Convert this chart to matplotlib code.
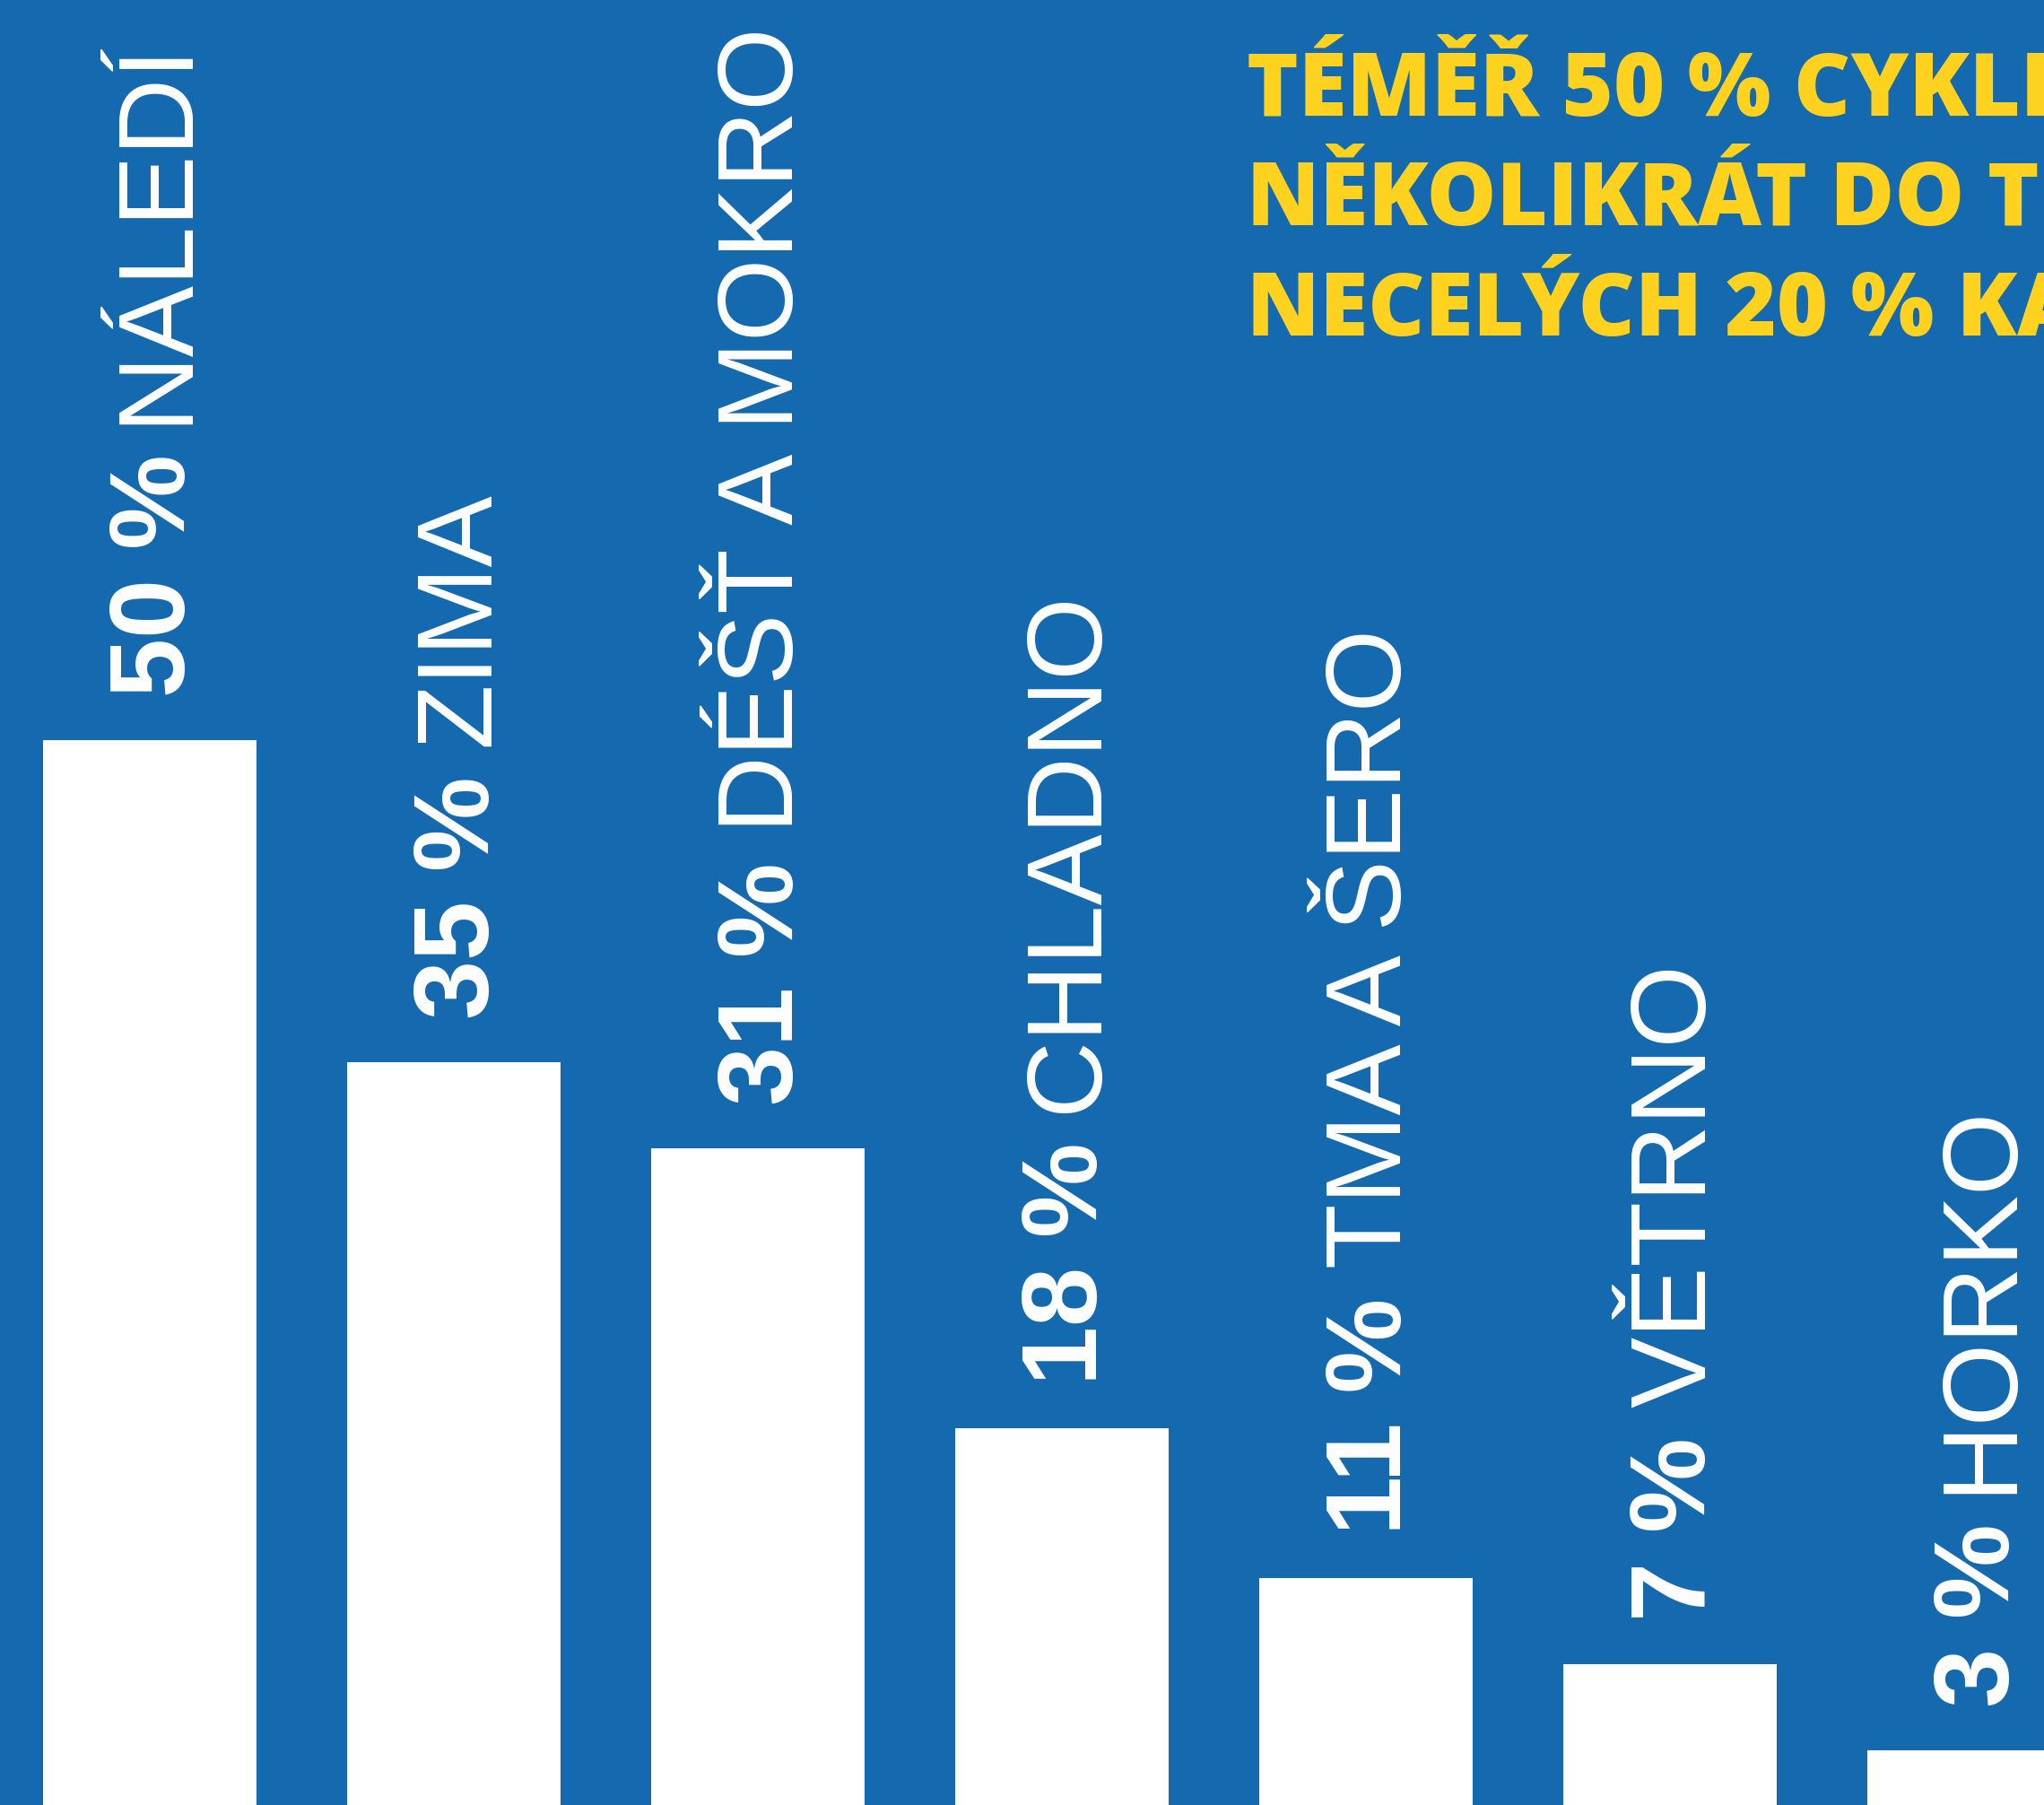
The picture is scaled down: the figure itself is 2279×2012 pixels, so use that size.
import os
import matplotlib
matplotlib.use("Agg")
import matplotlib.pyplot as plt
from matplotlib.font_manager import FontProperties

# ---- data ----
categories = ["NÁLEDÍ", "ZIMA", "DÉŠŤ A MOKRO", "CHLADNO", "TMA A ŠERO", "VĚTRNO", "HORKO"]
values = [50, 35, 31, 18, 11, 7, 3]
title_lines = ["TÉMĚŘ 50 % CYKLI", "NĚKOLIKRÁT DO T", "NECELÝCH 20 % KA"]

BG = "#1469AF"
YELLOW = "#FFD21F"
W, H, DPI = 2279, 2012, 100


def fp(path, family, weight, size):
    if os.path.exists(path):
        return FontProperties(fname=path, size=size)
    return FontProperties(family=family, weight=weight, size=size)


LIB = "/usr/share/fonts/truetype/liberation/"
OS = "/usr/share/fonts/truetype/open-sans/"
fs = 85.5
fp_bold = fp(LIB + "LiberationSans-Bold.ttf", "Liberation Sans", "bold", fs)
fp_reg = fp(LIB + "LiberationSans-Regular.ttf", "Liberation Sans", "normal", fs)
fp_title = fp(OS + "OpenSans-ExtraBold.ttf", "Open Sans", "heavy", 70.5)

fig = plt.figure(figsize=(W / DPI, H / DPI), dpi=DPI, facecolor=BG)
ax = fig.add_axes([0, 0, 1, 1])
ax.set_facecolor(BG)

x = list(range(len(values)))
ax.bar(x, values, width=0.702, color="white", linewidth=0)
ax.set_xlim(-0.4926, 6.230)
ax.set_ylim(0.46, 84.4)
ax.axis("off")

cap_half = 39
gap = 48
fig.canvas.draw()
renderer = fig.canvas.get_renderer()
for i, (v, cat) in enumerate(zip(values, categories)):
    t1 = ax.annotate(f"{v} %", xy=(i, v), xytext=(cap_half, gap), textcoords="offset pixels",
                     rotation=90, rotation_mode="anchor", ha="left", va="baseline",
                     fontproperties=fp_bold, color="white", annotation_clip=False)
    ext = t1.get_window_extent(renderer)
    space = 0.278 * fs * DPI / 72
    ax.annotate(cat, xy=(i, v), xytext=(cap_half, gap + ext.height + space),
                textcoords="offset pixels", rotation=90, rotation_mode="anchor",
                ha="left", va="baseline", fontproperties=fp_reg,
                color="white", annotation_clip=False)

for k, line in enumerate(title_lines):
    ybase = 129 + k * 122.5
    fig.text(1390 / W, 1 - ybase / H, line, ha="left", va="baseline",
             fontproperties=fp_title, color=YELLOW)

fig.savefig("out.png", dpi=DPI, facecolor=BG)
